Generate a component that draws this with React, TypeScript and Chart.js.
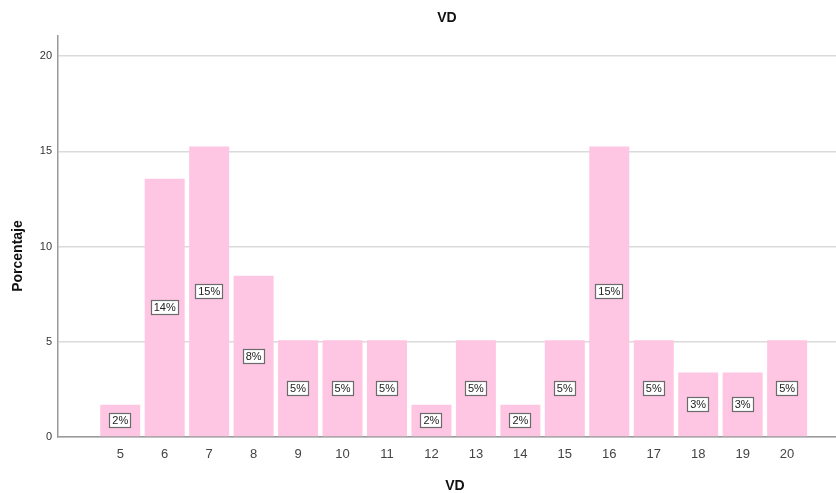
import React, { useEffect, useRef } from "react";
import { Chart, registerables } from "chart.js";

Chart.register(...registerables);

const categories = [5, 6, 7, 8, 9, 10, 11, 12, 13, 14, 15, 16, 17, 18, 19, 20];
const percentages = [1.69, 13.56, 15.25, 8.47, 5.08, 5.08, 5.08, 1.69, 5.08, 1.69, 5.08, 15.25, 5.08, 3.39, 3.39, 5.08];
const yTicks = [0, 5, 10, 15, 20];
const chartTitle = "VD";
const xTitle = "VD";
const yTitle = "Porcentaje";

const FONT = "'Liberation Sans', Arial, sans-serif";

const overlayPlugin = {
  id: "overlay",
  afterDatasetsDraw(chart: any) {
    const ctx = chart.ctx;
    const meta = chart.getDatasetMeta(0);
    const yScale = chart.scales.y;
    ctx.save();
    ctx.font = `11px ${FONT}`;
    ctx.textAlign = "center";
    ctx.textBaseline = "middle";
    meta.data.forEach((el: any, i: number) => {
      const v = percentages[i];
      const text = Math.round(v) + "%";
      const cx = el.x;
      const cy = yScale.getPixelForValue(v / 2);
      const w = ctx.measureText(text).width + 6;
      const h = 15;
      ctx.fillStyle = "#ffffff";
      ctx.fillRect(Math.round(cx - w / 2), Math.round(cy - h / 2), Math.round(w), h);
      ctx.strokeStyle = "#6b6b6b";
      ctx.lineWidth = 1.2;
      ctx.strokeRect(Math.round(cx - w / 2) + 0.5, Math.round(cy - h / 2) + 0.5, Math.round(w) - 1, h - 1);
      ctx.fillStyle = "#222222";
      ctx.fillText(text, cx, cy + 0.5);
    });
    ctx.restore();
  },
  afterDraw(chart: any) {
    const ctx = chart.ctx;
    const area = chart.chartArea;
    ctx.save();
    ctx.fillStyle = "#111111";
    ctx.textAlign = "center";
    ctx.textBaseline = "middle";
    ctx.font = `bold 14px ${FONT}`;
    ctx.fillText(chartTitle, (area.left + area.right) / 2, 18);
    ctx.font = `bold 14px ${FONT}`;
    ctx.fillText(xTitle, 455, 486);
    ctx.translate(18, 256);
    ctx.rotate(-Math.PI / 2);
    ctx.fillText(yTitle, 0, 0);
    ctx.restore();
  },
};

export default function App() {
  const ref = useRef<HTMLCanvasElement | null>(null);
  useEffect(() => {
    if (!ref.current) return;
    const chart = new Chart(ref.current, {
      type: "bar",
      data: {
        datasets: [
          {
            data: categories.map((c, i) => ({ x: c, y: percentages[i] })),
            backgroundColor: "#ffc6e4",
            borderWidth: 0,
            barPercentage: 0.9,
            categoryPercentage: 1,
          },
        ],
      },
      options: {
        animation: false,
        responsive: false,
        maintainAspectRatio: false,
        layout: { padding: { top: 36, left: 0, right: 0, bottom: 0 } },
        plugins: {
          legend: { display: false },
          title: { display: false },
          tooltip: { enabled: false },
        },
        scales: {
          x: {
            type: "linear",
            offset: false,
            min: 3.6,
            max: 21.1,
            afterBuildTicks: (scale: any) => {
              scale.ticks = categories.map((v) => ({ value: v }));
            },
            afterFit: (scale: any) => {
              scale.height = 56;
            },
            grid: { display: false, drawTicks: false, offset: false },
            border: { display: true, color: "#9a9a9a", width: 1.5 },
            ticks: {
              color: "#444444",
              font: { size: 13, family: FONT },
              padding: 10,
              maxRotation: 0,
              autoSkip: false,
              callback: (v: any) => String(v),
            },
          },
          y: {
            min: 0,
            max: 21.05,
            afterBuildTicks: (scale: any) => {
              scale.ticks = yTicks.map((v) => ({ value: v }));
            },
            afterFit: (scale: any) => {
              scale.width = 58;
            },
            grid: { color: "#dadada", lineWidth: 1.5, drawTicks: false },
            border: { display: true, color: "#9a9a9a", width: 1.5 },
            ticks: {
              color: "#333333",
              font: { size: 11, family: FONT },
              padding: 6,
            },
          },
        },
      },
      plugins: [overlayPlugin],
    } as any);
    return () => chart.destroy();
  }, []);
  return (
    <div style={{ position: "fixed", left: 0, top: 0, width: 836, height: 493, background: "#fff" }}>
      <canvas ref={ref} width={836} height={493} style={{ display: "block" }} />
    </div>
  );
}
